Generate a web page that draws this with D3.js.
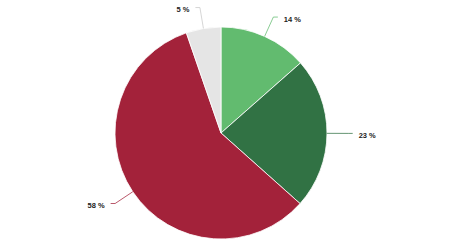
<!DOCTYPE html>
<html>
<head>
<meta charset="utf-8">
<script src="https://cdn.jsdelivr.net/npm/d3@7"></script>
<style>
  body { margin: 0; background: #fff; }
  svg { display: block; }
</style>
</head>
<body>
<div id="chart"></div>
<script>
// slice data, clockwise from 12 o'clock
var categories = ["A", "B", "C", "D"];
var values = [13.5, 23.1, 58.1, 5.3];
var colors = ["#62bb6f", "#317244", "#a3223a", "#e5e5e5"];

var width = 450, height = 250;
var cx = 221, cy = 133, radius = 106;

var data = categories.map(function (c, i) { return { key: c, value: values[i], color: colors[i] }; });
var total = d3.sum(values);

var svg = d3.select("#chart").append("svg")
    .attr("width", width)
    .attr("height", height);

var g = svg.append("g")
    .attr("transform", "translate(" + cx + "," + cy + ")");

var pie = d3.pie().sort(null).value(function (d) { return d.value; });
var arc = d3.arc().innerRadius(0).outerRadius(radius);
var arcs = pie(data);

g.selectAll(".slice")
    .data(arcs)
    .enter()
    .append("path")
    .attr("class", "slice")
    .attr("d", arc)
    .attr("fill", function (d) { return d.data.color; })
    .attr("stroke", "#fff")
    .attr("stroke-width", 0.8);

// leader lines: from edge out to 1.2r, then a short horizontal bit
function pt(a, r) { return [Math.sin(a) * r, -Math.cos(a) * r]; }

arcs.forEach(function (d) {
    var mid = (d.startAngle + d.endAngle) / 2;
    var right = Math.sin(mid) >= 0;
    var p0 = pt(mid, radius);
    var p1 = pt(mid, radius * 1.2);
    var p2 = [p1[0] + (right ? 4.5 : -4.5), p1[1]];

    g.append("polyline")
        .attr("points", [p0, p1, p2].map(function (p) { return p.join(","); }).join(" "))
        .attr("fill", "none")
        .attr("stroke", d.data.color === "#e5e5e5" ? "#c8c8c8" : d.data.color)
        .attr("stroke-opacity", 0.75)
        .attr("stroke-width", 1);

    g.append("text")
        .attr("x", p2[0] + (right ? 6 : -6))
        .attr("y", p2[1] + 2)
        .attr("dy", "0.35em")
        .attr("text-anchor", right ? "start" : "end")
        .style("font-family", "'Liberation Sans', Arial, sans-serif")
        .style("font-size", "7.5px")
        .style("font-weight", "bold")
        .style("fill", "#222")
        .text(Math.round(d.data.value / total * 100) + " %");
});
</script>
</body>
</html>
